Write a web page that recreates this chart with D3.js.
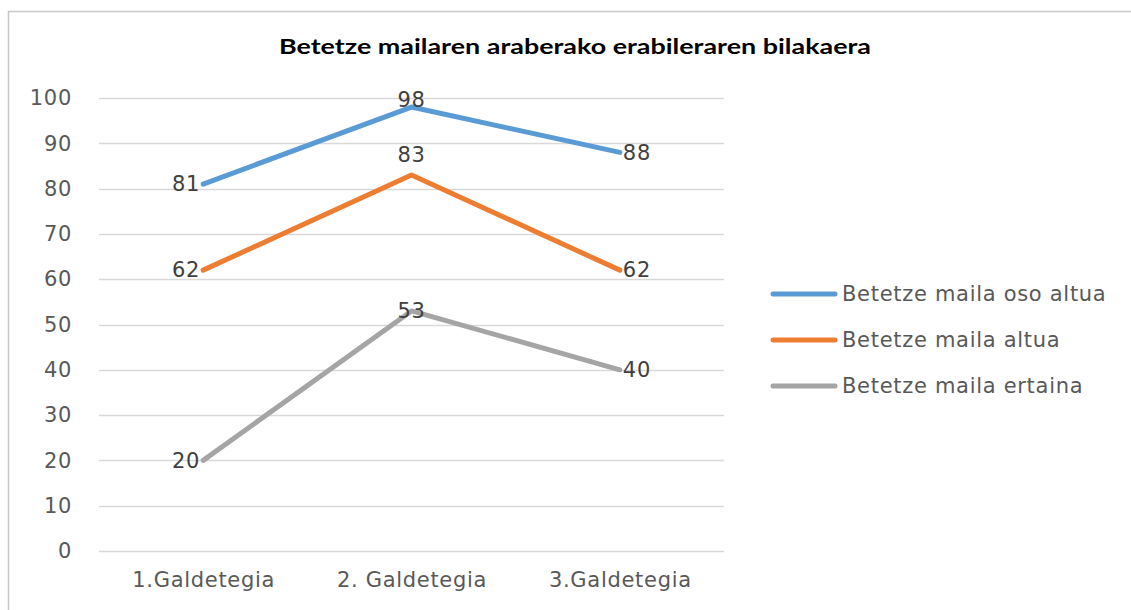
<!DOCTYPE html>
<html>
<head>
<meta charset="utf-8">
<script src="https://cdn.jsdelivr.net/npm/d3@7"></script>
<style>
  body { margin: 0; background: #fff; }
  text { font-family: "DejaVu Sans", sans-serif; }
</style>
</head>
<body>
<div id="chart-container"></div>
<script>
// Chart data
var categories = ["1.Galdetegia", "2. Galdetegia", "3.Galdetegia"];
var seriesNames = ["Betetze maila oso altua", "Betetze maila altua", "Betetze maila ertaina"];
var osoAltua = [81, 98, 88];
var altua = [62, 83, 62];
var ertaina = [20, 53, 40];
var yTicks = [0, 10, 20, 30, 40, 50, 60, 70, 80, 90, 100];
var colors = ["#5B9BD5", "#ED7D31", "#A5A5A5"];
// label placement per point (left / above / right / center)
var labelPos = [
    ["left", "above", "right"],
    ["left", "above", "right"],
    ["left", "center", "right"]
];

var series = [osoAltua, altua, ertaina].map(function(vals, i) {
    return { name: seriesNames[i], color: colors[i], values: vals.map(function(v, j) {
        return { cat: categories[j], value: v, pos: labelPos[i][j] };
    }) };
});

var W = 1131, H = 610;
var fontSize = "21px";
var spacing = "0.7px";
var svg = d3.select("#chart-container")
    .append("svg")
    .attr("width", W)
    .attr("height", H);

// chart border
svg.append("rect")
    .attr("x", 8.5).attr("y", 11.5)
    .attr("width", W + 10).attr("height", H + 10)
    .attr("fill", "none")
    .attr("stroke", "#c8c8c8")
    .attr("stroke-width", 1.5);

// Scales
var xScale = d3.scalePoint()
    .domain(categories)
    .range([99, 724])
    .padding(0.5);

var yScale = d3.scaleLinear()
    .domain([0, 100])
    .range([551, 98]);

// gridlines
svg.append("g")
    .selectAll("line")
    .data(yTicks)
    .enter().append("line")
    .attr("x1", 99).attr("x2", 724)
    .attr("y1", d => Math.round(yScale(d)) + 0.5)
    .attr("y2", d => Math.round(yScale(d)) + 0.5)
    .attr("stroke", "#d9d9d9")
    .attr("stroke-width", 1.5);

// Y axis
var yAxis = d3.axisLeft(yScale).tickValues(yTicks).tickSize(0).tickPadding(0);
var yg = svg.append("g")
    .attr("transform", "translate(72,0)")
    .call(yAxis);
yg.select(".domain").remove();
yg.selectAll("text")
    .attr("fill", "#595959")
    .style("font-size", fontSize)
    .style("letter-spacing", spacing)
    .style("font-family", "'DejaVu Sans', sans-serif");

// X axis
var xAxis = d3.axisBottom(xScale).tickSize(0).tickPadding(0);
var xg = svg.append("g")
    .attr("transform", "translate(0,572)")
    .call(xAxis);
xg.select(".domain").remove();
xg.selectAll("text")
    .attr("fill", "#595959")
    .style("font-size", fontSize)
    .style("letter-spacing", spacing)
    .style("font-family", "'DejaVu Sans', sans-serif");

// Lines
var line = d3.line()
    .x(d => xScale(d.cat))
    .y(d => yScale(d.value));

svg.selectAll(".series")
    .data(series)
    .enter().append("path")
    .attr("class", "series")
    .attr("fill", "none")
    .attr("stroke", d => d.color)
    .attr("stroke-width", 5)
    .attr("stroke-linecap", "round")
    .attr("stroke-linejoin", "round")
    .attr("d", d => line(d.values));

// Data labels (kept inside plot area, like Excel does)
series.forEach(function(s) {
    svg.append("g")
        .selectAll("text")
        .data(s.values)
        .enter().append("text")
        .attr("x", function(d) {
            var x = xScale(d.cat);
            if (d.pos === "left") return x - 3;
            if (d.pos === "right") return x + 3;
            return x;
        })
        .attr("y", function(d) {
            var y = yScale(d.value);
            if (d.pos === "above") return Math.max(y - 20, 100);
            return y;
        })
        .attr("dy", "0.35em")
        .attr("text-anchor", function(d) {
            if (d.pos === "left") return "end";
            if (d.pos === "right") return "start";
            return "middle";
        })
        .attr("fill", "#404040")
        .style("font-size", fontSize)
        .style("letter-spacing", spacing)
        .text(d => d.value);
});

// Legend
var legend = svg.append("g")
    .attr("transform", "translate(773,294)");

var items = legend.selectAll("g")
    .data(series)
    .enter().append("g")
    .attr("transform", (d, i) => "translate(0," + i * 46 + ")");

items.append("line")
    .attr("x1", 0).attr("x2", 62)
    .attr("stroke", d => d.color)
    .attr("stroke-width", 5)
    .attr("stroke-linecap", "round");

items.append("text")
    .attr("x", 69)
    .attr("dy", "0.35em")
    .attr("fill", "#595959")
    .style("font-size", fontSize)
    .style("letter-spacing", spacing)
    .text(d => d.name);

// Title
svg.append("text")
    .attr("x", 575)
    .attr("y", 54)
    .attr("text-anchor", "middle")
    .attr("fill", "#000")
    .attr("textLength", 592)
    .attr("lengthAdjust", "spacingAndGlyphs")
    .style("font-family", "Lato, sans-serif")
    .style("font-weight", "bold")
    .style("font-size", "21px")
    .text("Betetze mailaren araberako erabileraren bilakaera");
</script>
</body>
</html>
